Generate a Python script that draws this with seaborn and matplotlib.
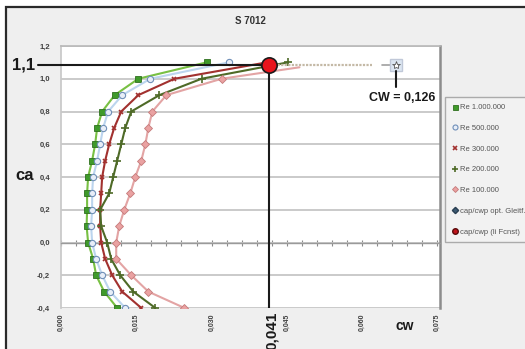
import numpy as np
import pandas as pd
import matplotlib
matplotlib.use("Agg")
import matplotlib.pyplot as plt
import seaborn as sns
from matplotlib.lines import Line2D
from matplotlib.patches import Rectangle

# ---------------- data ----------------
ca = [1.1, 1.0, 0.9, 0.8, 0.7, 0.6, 0.5, 0.4, 0.3, 0.2, 0.1, 0.0, -0.1, -0.2, -0.3, -0.4]
ca_100k = [1.07, 1.0, 0.9, 0.8, 0.7, 0.6, 0.5, 0.4, 0.3, 0.2, 0.1, 0.0, -0.1, -0.2, -0.3, -0.4]
cw_re1m = [0.0290, 0.0154, 0.0107, 0.0082, 0.0072, 0.0068, 0.0062, 0.0054, 0.0052, 0.0052, 0.0051, 0.0054, 0.0064, 0.0070, 0.0086, 0.0112]
cw_re500k = [0.0334, 0.0178, 0.0122, 0.0094, 0.0084, 0.0078, 0.0072, 0.0064, 0.0062, 0.0062, 0.0060, 0.0062, 0.0070, 0.0082, 0.0098, 0.0128]
cw_re300k = [0.0410, 0.0226, 0.0154, 0.0120, 0.0106, 0.0096, 0.0088, 0.0082, 0.0080, 0.0078, 0.0078, 0.0080, 0.0088, 0.0102, 0.0122, 0.0160]
cw_re200k = [0.0452, 0.0280, 0.0196, 0.0140, 0.0128, 0.0120, 0.0112, 0.0104, 0.0096, 0.0078, 0.0080, 0.0092, 0.0100, 0.0118, 0.0144, 0.0188]
cw_re100k = [0.0475, 0.0320, 0.0210, 0.0182, 0.0174, 0.0168, 0.0160, 0.0148, 0.0138, 0.0126, 0.0116, 0.0110, 0.0110, 0.0140, 0.0174, 0.0246]

series_names = ["Re 1.000.000", "Re 500.000", "Re 300.000", "Re 200.000", "Re 100.000"]
opt_names = ["cap/cwp opt. Gleitf.", "cap/cwp (li Fcnst)"]

ca_opt = 1.085
cw_opt = 0.0415
cw_glide_dotted = [0.0425, 0.0620]
cw_glide_star = [0.0640, 0.0668]
cw_text = "CW = 0,126"

xtick_vals = [0.0, 0.015, 0.030, 0.045, 0.060, 0.075]
xtick_labels = ["0,000", "0,015", "0,030", "0,045", "0,060", "0,075"]
ytick_vals = [-0.4, -0.2, 0.0, 0.2, 0.4, 0.6, 0.8, 1.0, 1.2]
ytick_labels = ["-0,4", "-0,2", "0,0", "0,2", "0,4", "0,6", "0,8", "1,0", "1,2"]

# ---------------- style ----------------
sns.set_theme(style="white")
plt.rcParams['font.family'] = ['Liberation Sans', 'DejaVu Sans']

W, H = 525, 349
fig = plt.figure(figsize=(W / 100, H / 100), dpi=100, facecolor="white")
bg = Rectangle((6 / W, -0.1), 1.2, (1 - 7 / H) + 0.1, transform=fig.transFigure,
               facecolor="#efefef", edgecolor="#2a2a2a", lw=1.6, zorder=-10)
fig.patches.append(bg)

ax = fig.add_axes([61 / W, 1 - 308 / H, (440 - 61) / W, (308 - 46) / H])
ax.set_zorder(1)
ax.set_facecolor("white")

styles = [
    dict(color="#78c043", marker="s", mfc="#3f9a2a", mec="#2f6f1f", ms=4.5, mew=0.6),
    dict(color="#bcd5ee", marker="o", mfc="#e8eef8", mec="#6f8fb8", ms=4.5, mew=0.8),
    dict(color="#a2312f", marker="x", mfc="#a2312f", mec="#a2312f", ms=3.5, mew=1.2),
    dict(color="#4e6a27", marker="+", mfc="#4e6a27", mec="#4e6a27", ms=5.5, mew=1.2),
    dict(color="#e3a4a4", marker="D", mfc="#eaa2a2", mec="#c57a7a", ms=3.8, mew=0.6),
]
all_cw = [cw_re1m, cw_re500k, cw_re300k, cw_re200k, cw_re100k]
all_ca = [ca, ca, ca, ca, ca_100k]

for name, cws, cas, st in zip(series_names, all_cw, all_ca, styles):
    df = pd.DataFrame({"cw": cws, "ca": cas})
    markevery = list(range(1, len(cws))) if name in ("Re 300.000", "Re 100.000") else None
    sns.lineplot(data=df, x="cw", y="ca", sort=False, estimator=None, ax=ax,
                 color=st["color"], lw=1.5, marker=st["marker"], markersize=st["ms"],
                 markerfacecolor=st["mfc"], markeredgecolor=st["mec"], markeredgewidth=st["mew"],
                 markevery=markevery, zorder=3, legend=False)

# optimum glide line (dotted) and star
ax.plot(cw_glide_dotted, [ca_opt, ca_opt], color="#c4b9a6", lw=1.6, ls=(0, (1, 0.6)), zorder=3)
ax.plot(cw_glide_star, [ca_opt, ca_opt], color="#a0a0a0", lw=1.2, zorder=3)
ax.plot([cw_glide_star[-1]], [ca_opt], marker="s", ms=8, mfc="#dce6f2", mec="#c0c8d8", zorder=4)
ax.plot([cw_glide_star[-1]], [ca_opt], marker="*", ms=6, mfc="white", mec="#555555", mew=0.6, zorder=5)

# black guide lines and red point
ax.plot([-0.0046, cw_opt], [ca_opt, ca_opt], color="#1a1a1a", lw=1.5, clip_on=False, zorder=5)
ax.plot([cw_opt, cw_opt], [ca_opt, -0.4], color="#1a1a1a", lw=1.5, zorder=5)
ax.plot([cw_opt], [ca_opt], marker="o", ms=11, mfc="#e8141c", mec="#1a1a1a", mew=1.2, zorder=6)
ax.plot([cw_glide_star[-1], cw_glide_star[-1]], [ca_opt - 0.04, ca_opt - 0.135], color="#1a1a1a",
        lw=1.5, zorder=5)

# axes
ax.set_xlim(0, 0.0755)
ax.set_ylim(-0.4, 1.2)
ax.set_yticks(ytick_vals, labels=ytick_labels)
ax.tick_params(axis="y", length=0, pad=8, labelsize=5.5, labelcolor="#404040")
for lbl in ax.get_yticklabels():
    lbl.set_fontweight("bold")
ax.yaxis.grid(True, color="#c6c6c6", lw=1.3)
ax.set_axisbelow(True)

ax.spines["bottom"].set_position(("data", 0))
ax.spines["bottom"].set_color("#9a9a9a")
ax.spines["bottom"].set_linewidth(1.0)
ax.set_xticks(np.arange(0, 0.0751, 0.003))
ax.tick_params(axis="x", direction="inout", length=4, width=0.8, color="#8a8a8a", labelbottom=False, bottom=True)
ax.spines["top"].set_color("#b8b8b8")
ax.spines["top"].set_linewidth(1.2)
ax.spines["left"].set_color("#c8c8c8")
ax.spines["right"].set_color("#8c8c8c")
ax.spines["right"].set_linewidth(1.8)
ax.set_xlabel("")
ax.set_ylabel("")

sec = ax.secondary_xaxis(0.0)
sec.set_xticks(xtick_vals, labels=xtick_labels)
sec.tick_params(length=0, pad=4, labelsize=5, labelcolor="#404040", labelrotation=90)
for lbl in sec.get_xticklabels():
    lbl.set_fontweight("bold")
sec.spines["bottom"].set_visible(False)

# legend
handles = [Line2D([], [], ls="none", marker=st["marker"], ms=st["ms"] * 0.8, mfc=st["mfc"], mec=st["mec"],
                  mew=st["mew"]) for st in styles]
handles.append(Line2D([], [], ls="none", marker="D", ms=3.2, mfc="#3d5a73", mec="#2a3f52"))
handles.append(Line2D([], [], ls="none", marker="o", ms=4, mfc="#c0141c", mec="#5a0a0a"))
leg = fig.legend(handles, series_names + opt_names, loc="upper left",
                 bbox_to_anchor=(445 / W, 1 - 97 / H), frameon=True, fontsize=5.5,
                 labelcolor="#555555", handlelength=0.7, handletextpad=0.4, labelspacing=1.75,
                 borderpad=0.9, borderaxespad=0, fancybox=False)
leg.get_frame().set_facecolor("#f4f4f4")
leg.get_frame().set_edgecolor("#9a9a9a")
leg.get_frame().set_linewidth(1.0)
leg.set_zorder(2)

# texts
def ftext(x, y, s, **kw):
    fig.text(x / W, 1 - y / H, s, zorder=3, **kw)

ftext(250, 21, "S 7012", ha="center", va="center", fontsize=7, fontweight="bold", color="#333333")
ftext(24, 65, "1,1", ha="center", va="center", fontsize=12, fontweight="bold", color="#1a1a1a")
ftext(25, 176, "ca", ha="center", va="center", fontsize=12, fontweight="bold", color="#1a1a1a")
ftext(405, 326, "cw", ha="center", va="center", fontsize=10, fontweight="bold", color="#1a1a1a")
ftext(402, 98, cw_text, ha="center", va="center", fontsize=9, fontweight="bold", color="#1a1a1a")
ftext(272, 312, "0,041", ha="center", va="top", rotation=90, fontsize=11, fontweight="bold", color="#1a1a1a")

fig.savefig("out.png", dpi=100, facecolor=fig.get_facecolor())
